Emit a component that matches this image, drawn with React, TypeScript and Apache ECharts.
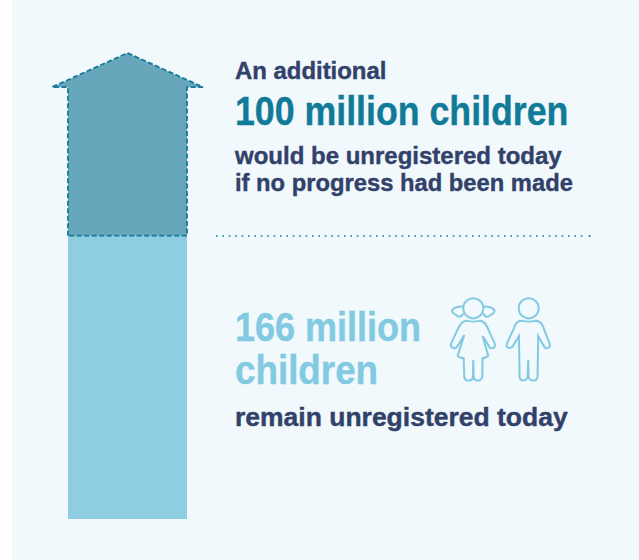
import React, { useEffect, useRef } from "react";
import * as echarts from "echarts";

const categories = ["Children"];
const unregisteredToday = [166];
const arrowShoulder = [253];
const arrowApex = [273];
const dividerLabels = {
  lead: "An additional",
  big: "100 million children",
  line1: "would be unregistered today",
  line2: "if no progress had been made",
  lower1: "166 million",
  lower2: "children",
  lower3: "remain unregistered today",
};

const BG = "#f1f9fc";
const DARK = "#32416a";
const TEAL = "#117a98";
const LIGHT = "#8fcde2";
const LIGHT_TEXT = "#82cae2";
const ARROW = "#68a7bb";

const boyD =
  "M275 122Q296 128 318 122C335 122 340 140 345 155L360 192Q362 205 350 205Q345 205 340 195L325 168L323 290Q322 302 310 302Q298 302 296 290L295 240L293 290Q290 302 280 302Q270 302 269 290L267 168L248 200Q240 207 232 202Q228 196 232 188L250 150C255 135 260 122 275 122Z";
const girlD =
  "M110 122Q130 128 150 122C165 122 172 140 178 155L195 192Q197 205 185 205Q178 205 175 195L158 168L175 228Q165 235 158 235L157 290Q155 302 143 302Q132 302 131 290L130 240L129 290Q128 302 115 302Q104 302 103 290L101 235Q92 235 83 228L103 165L85 195Q80 205 70 205Q60 200 63 192L80 155C88 138 95 122 110 122Z";
const tailLD = "M100 80Q80 78 68 88Q64 95 70 100L85 110Q95 112 100 100";
const tailRD = "M160 80Q180 78 192 88Q196 95 190 100L175 110Q165 112 160 100";

echarts.graphic.registerShape("boyIcon", echarts.graphic.extendPath(boyD, {}) as any);
echarts.graphic.registerShape("girlIcon", echarts.graphic.extendPath(girlD, {}) as any);
echarts.graphic.registerShape("tailL", echarts.graphic.extendPath(tailLD, {}) as any);
echarts.graphic.registerShape("tailR", echarts.graphic.extendPath(tailRD, {}) as any);

const SANS = "'Liberation Sans', Arial, sans-serif";

function label(text: string, y: number, size: number, color: string, scaleX: number, weight: number) {
  return {
    type: "text",
    x: 235,
    y,
    scaleX,
    style: {
      text,
      fill: color,
      stroke: color,
      lineWidth: weight,
      font: `bold ${size}px ${SANS}`,
      textAlign: "left",
      textVerticalAlign: "middle",
    },
  };
}

function icon(type: string) {
  return {
    type,
    x: 430,
    y: 280,
    scaleX: 1 / 3,
    scaleY: 1 / 3,
    style: { fill: "none", stroke: LIGHT_TEXT, lineWidth: 6 },
  };
}

export default function App() {
  const ref = useRef<HTMLDivElement>(null);
  useEffect(() => {
    document.body.style.margin = "0";
    const chart = echarts.init(ref.current!, undefined, { renderer: "svg" });
    chart.setOption({
      animation: false,
      backgroundColor: "#ffffff",
      grid: { left: 68, width: 119, top: 53, height: 466 },
      xAxis: { type: "category", data: categories, show: false },
      yAxis: { type: "value", min: 0, max: 273, show: false },
      graphic: {
        elements: [
          { type: "rect", z: -10, silent: true, shape: { x: 12, y: 0, width: 627, height: 560 }, style: { fill: BG } },
          label(dividerLabels.lead, 71, 23, DARK, 1.04, 0.4),
          label(dividerLabels.big, 111, 40, TEAL, 0.893, 0.4),
          label(dividerLabels.line1, 155, 24, DARK, 1, 0.4),
          label(dividerLabels.line2, 182, 24, DARK, 0.99, 0.4),
          label(dividerLabels.lower1, 327, 40, LIGHT_TEXT, 0.9, 0.4),
          label(dividerLabels.lower2, 370, 40, LIGHT_TEXT, 0.92, 0.4),
          label(dividerLabels.lower3, 417, 25, DARK, 1.06, 0.4),
          {
            type: "line",
            shape: { x1: 216, y1: 236, x2: 584, y2: 236 },
            style: { stroke: TEAL, lineWidth: 1.6, lineDash: [1.6, 4.8] },
          },
          { type: "circle", shape: { cx: 589.5, cy: 236, r: 1 }, style: { fill: TEAL } },
          { type: "circle", shape: { cx: 473.3, cy: 308.3, r: 10 }, style: { fill: "none", stroke: LIGHT_TEXT, lineWidth: 2 } },
          { type: "circle", shape: { cx: 528.7, cy: 308.3, r: 10 }, style: { fill: "none", stroke: LIGHT_TEXT, lineWidth: 2 } },
          icon("girlIcon"),
          icon("tailL"),
          icon("tailR"),
          icon("boyIcon"),
        ],
      },
      series: [
        {
          type: "bar",
          data: unregisteredToday,
          barWidth: "100%",
          itemStyle: { color: LIGHT },
          z: 1,
        },
        {
          type: "custom",
          clip: false,
          z: 2,
          data: categories.map((_, i) => [i, unregisteredToday[i], arrowShoulder[i], arrowApex[i]]),
          encode: { x: 0, y: [1, 2, 3] },
          renderItem: (_p: any, api: any) => {
            const [cx, base] = api.coord([api.value(0), api.value(1)]);
            const shoulder = api.coord([api.value(0), api.value(2)])[1];
            const apex = api.coord([api.value(0), api.value(3)])[1];
            const half = api.size([1, 0])[0] / 2;
            const wing = 16;
            return {
              type: "polygon",
              shape: {
                points: [
                  [cx - half, base],
                  [cx - half, shoulder],
                  [cx - half - wing, shoulder],
                  [cx, apex],
                  [cx + half + wing, shoulder],
                  [cx + half, shoulder],
                  [cx + half, base],
                ],
              },
              style: { fill: ARROW, stroke: TEAL, lineWidth: 1.8, lineDash: [5, 2.5] },
            };
          },
        },
      ],
    });
    return () => chart.dispose();
  }, []);
  return <div ref={ref} style={{ width: 639, height: 560 }} />;
}
